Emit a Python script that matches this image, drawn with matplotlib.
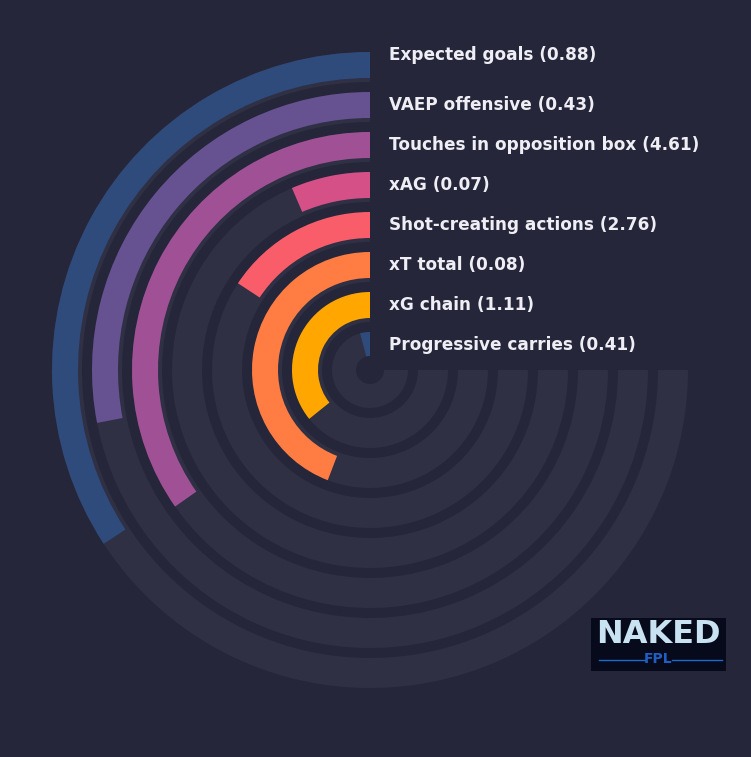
import numpy as np
import matplotlib.pyplot as plt
from matplotlib.transforms import ScaledTranslation

# metrics, outermost ring first
metrics = ["Expected goals", "VAEP offensive", "Touches in opposition box", "xAG",
           "Shot-creating actions", "xT total", "xG chain", "Progressive carries"]
values = [0.88, 0.43, 4.61, 0.07, 2.76, 0.08, 1.11, 0.41]
# how far round the 270 degree track each bar goes (percent)
percentiles = [45.6, 37.4, 46.3, 8.6, 21.0, 58.9, 47.7, 5.6]
colors = ["#2f4b7c", "#665191", "#a05195", "#d45087", "#f95d6a", "#ff7c43", "#ffa600", "#2f4b7c"]

bg = "#25263a"
track = "#2f3044"
txt = "#eeeef4"

W, H = 751, 757
fig = plt.figure(figsize=(W / 100, H / 100), dpi=100, facecolor=bg)

# center at (370, 370) px from top-left, 8 rings of 40 px
cx, cy, R = 370, 370, 320
ax = fig.add_axes([(cx - R) / W, (H - cy - R) / H, 2 * R / W, 2 * R / H], projection="polar")
ax.set_facecolor("none")
ax.set_theta_zero_location("N")
ax.set_theta_direction(1)
ax.set_ylim(0, 8)
ax.set_axis_off()

n = len(metrics)
span = 1.5 * np.pi
for i in range(n):
    ring = n - 1 - i  # 0 = innermost
    ax.bar(0, 0.75, width=span, bottom=0.2 + ring, align="edge", color=track, linewidth=0)
    ax.bar(0, 0.65, width=span * percentiles[i] / 100, bottom=0.3 + ring, align="edge",
           color=colors[i], linewidth=0)

# dark hole in the middle
ax.bar(0, 0.35, width=2 * np.pi, bottom=0, align="edge", color=bg, linewidth=0)

for i in range(n):
    ring = n - 1 - i
    dy = 10 / 100 if i == 0 else 0
    off = ScaledTranslation(19 / 100, dy, fig.dpi_scale_trans)
    ax.text(0, 0.625 + ring, f"{metrics[i]} ({values[i]:.2f})", transform=ax.transData + off,
            ha="left", va="center", color=txt, fontsize=12.2, fontweight="bold",
            family="DejaVu Sans")

# logo box
lx, ly, lw, lh = 591, 618, 135, 53
lax = fig.add_axes([lx / W, (H - ly - lh) / H, lw / W, lh / H])
lax.set_facecolor("#060a1a")
lax.set_xlim(0, 1)
lax.set_ylim(0, 1)
lax.set_xticks([])
lax.set_yticks([])
for s in lax.spines.values():
    s.set_visible(False)
lax.text(0.5, 0.69, "NAKED", ha="center", va="center", color="#c9e2f2", fontsize=23,
         fontweight="bold", family="DejaVu Sans")
lax.text(0.5, 0.22, "FPL", ha="center", va="center", color="#1f5fc4", fontsize=10,
         fontweight="bold", family="DejaVu Sans")
lax.plot([0.06, 0.4], [0.2, 0.2], color="#1a6ad0", lw=1)
lax.plot([0.6, 0.97], [0.2, 0.2], color="#1a6ad0", lw=1)

fig.savefig("out.png", dpi=100, facecolor=bg)
